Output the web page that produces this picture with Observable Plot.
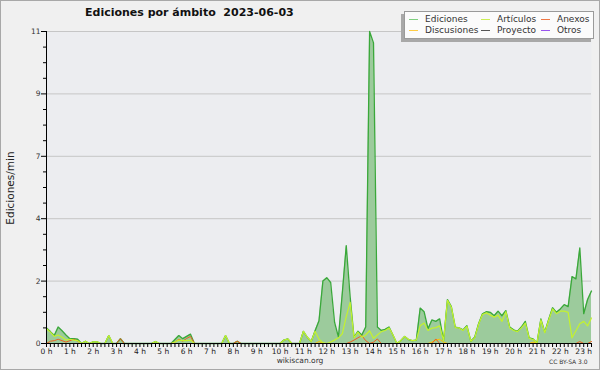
<!DOCTYPE html>
<html><head><meta charset="utf-8">
<script src="https://cdn.jsdelivr.net/npm/d3@7"></script>
<script src="https://cdn.jsdelivr.net/npm/@observablehq/plot@0.6"></script>
<style>
html,body{margin:0;padding:0;background:#f0f0f0;}
#wrap{position:relative;width:600px;height:370px;overflow:hidden;background:#f0f0f0;font-family:"DejaVu Sans",sans-serif;color:#222;}
#border{position:absolute;left:0;top:0;width:598px;height:368px;border:1px solid #a8a8a8;pointer-events:none;}
#chart{position:absolute;left:0;top:0;}
.t{position:absolute;white-space:pre;line-height:1;}
#title{left:85px;top:7px;font-weight:bold;font-size:11px;color:#111;}
#ylab{left:10px;top:188px;font-size:10.5px;transform:translate(-50%,-50%) rotate(-90deg);}
#site{left:300px;top:357px;font-size:7.5px;transform:translateX(-50%);color:#333;}
#cc{left:549px;top:359px;font-size:6px;color:#333;}
#legend{position:absolute;left:404px;top:11px;width:188px;height:26px;background:#fbfbfb;border:1px solid #9a9a9a;box-shadow:-3px 3px 0 #a8a8a8;}
.sw{position:absolute;width:9px;height:0;border-top:1px solid;}
.lt{position:absolute;font-size:9px;color:#333;white-space:pre;line-height:1;}
</style></head>
<body><div id="wrap"><div id="chart"></div>
<div id="title" class="t">Ediciones por ámbito  2023-06-03</div>
<div id="ylab" class="t">Ediciones/min</div>
<div id="site" class="t">wikiscan.org</div>
<div id="cc" class="t">CC BY-SA 3.0</div>
<div id="legend"></div>
<div id="border"></div>
</div>
<script>
// 10-minute slots starting at 00:00
const stepMinutes = 10;
const ediciones = [
 0.55,0.42,0.28,0.58,0.45,0.30,
 0.17,0.17,0.15,0,0.08,0,
 0.06,0.06,0,0,0.28,0,
 0,0.17,0,0,0,0,
 0,0,0,0,0.07,0,
 0,0,0,0.14,0.28,0.17,
 0.25,0.33,0,0,0,0,
 0,0,0,0,0.28,0,
 0,0.08,0,0,0,0,
 0,0,0,0,0,0,
 0,0.12,0.16,0,0,0,
 0.43,0.22,0.07,0.45,0.80,2.20,
 2.32,2.15,0.75,0.22,1.80,3.45,
 1.65,0.22,0.43,0.30,0.58,11.0,
 10.6,0.58,0.46,0.50,0.58,0.30,
 0,0.10,0.25,0.14,0.10,0.12,
 1.25,1.12,0.52,0.83,0.78,0.87,
 0.10,1.55,1.30,0.58,0.55,0.48,
 0.63,0.08,0.22,0.70,1.05,1.12,
 1.10,0.98,1.14,0.98,1.16,0.58,
 0.48,0.43,0.58,0.78,0.20,0.16,
 0.02,0.87,0.40,0.85,1.26,1.10,
 1.22,1.37,1.30,2.36,2.28,3.37,
 1.05,1.55,1.85];
const articulos = [
 0.52,0.40,0.25,0.30,0.22,0.12,
 0.15,0.12,0.10,0,0.08,0,
 0.06,0.06,0,0,0.28,0,
 0,0,0,0,0,0,
 0,0,0,0,0.07,0,
 0,0,0,0.05,0.12,0.10,
 0.10,0.12,0,0,0,0,
 0,0,0,0,0.28,0,
 0,0,0,0,0,0,
 0,0,0,0,0,0,
 0,0.12,0.16,0,0,0,
 0.43,0.22,0.07,0.43,0.15,0.03,
 0,0.05,0.12,0.20,0.35,0.95,
 1.45,0.20,0.40,0.22,0.30,0.45,
 0.18,0.30,0.42,0.46,0.55,0.30,
 0,0.10,0.25,0.14,0.10,0.12,
 0.63,0.72,0.46,0.54,0.56,0.62,
 0.10,1.52,1.28,0.56,0.55,0.46,
 0.60,0.08,0.20,0.68,1.02,1.08,
 1.00,0.93,1.00,0.78,1.12,0.55,
 0.46,0.42,0.55,0.72,0.18,0.14,
 0.02,0.83,0.38,0.82,1.22,1.05,
 1.14,1.14,1.10,0.20,0.45,0.70,
 0.78,0.62,0.90];
const anexos = [
 0,0.08,0.10,0.15,0.10,0.05,
 0.10,0.15,0.08,0,0,0,
 0,0,0,0,0,0,
 0,0.17,0,0,0,0,
 0,0,0,0,0,0,
 0,0,0,0.05,0.15,0.08,
 0.18,0.25,0,0,0,0,
 0,0,0,0,0,0,
 0,0.08,0,0,0,0,
 0,0,0,0,0,0,
 0,0,0,0,0,0,
 0,0,0,0,0,0,
 0,0,0,0,0,0,
 0.05,0.12,0.20,0.28,0.10,0,
 0.05,0.16,0,0,0,0,
 0,0,0,0,0,0,
 0,0,0,0,0.16,0,
 0,0,0,0,0,0,
 0,0,0,0,0,0,
 0,0,0,0,0,0,
 0,0,0,0,0,0,
 0,0,0,0,0,0,
 0,0,0,0,0,0.07,
 0,0,0.07];
const discusiones = [
 0,0,0,0,0,0, 0,0,0,0,0,0, 0,0,0,0,0,0, 0,0,0,0,0,0,
 0,0,0,0,0,0, 0,0,0,0,0,0, 0,0,0,0,0,0, 0,0,0,0,0,0,
 0,0,0,0,0,0, 0,0,0,0,0,0, 0,0,0,0,0,0,
 0,0,0,0,0.07,0,
 0,0,0,0,0,0, 0,0,0,0,0,0, 0,0,0,0,0,0, 0,0,0,0,0,0,
 0,0,0,0.05,0.12,0.15,
 0.05,0,0,0,0,0, 0,0,0,0,0,0, 0,0,0,0,0,0,
 0,0,0,0,0,0.05,
 0,0,0,0,0,0, 0,0,0,0,0,0, 0,0,0];
const yTicks = [0, 2.2, 4.4, 6.6, 8.8, 11];
const hourLabels = d3.range(0, 24);
const legendItems = ["Ediciones","Artículos","Anexos","Discusiones","Proyecto","Otros"];
const legendColors = ["#7fcf7f","#ccee55","#ee7744","#ffcc44","#555555","#9955ee"];

const data = ediciones.map((v, i) => ({
  h: i * stepMinutes / 60, total: v, art: articulos[i], anx: anexos[i], disc: discusiones[i]
}));
const xMax = (ediciones.length - 1) * stepMinutes / 60;
const minorY = d3.range(0, 20).map(k => k * 0.55).filter(v => !yTicks.some(t => Math.abs(t - v) < 1e-6));
const minorX = d3.range(0, ediciones.length).map(i => i * stepMinutes / 60);

const chart = Plot.plot({
  width: 600, height: 370,
  marginLeft: 46, marginRight: 9, marginTop: 31, marginBottom: 27,
  style: {background: "transparent", fontFamily: "DejaVu Sans, sans-serif", fontSize: "7.5px", color: "#000"},
  x: {domain: [0, xMax]},
  y: {domain: [0, 11]},
  marks: [
    Plot.frame({fill: "#ecedf0", stroke: null}),
    Plot.gridY(yTicks.slice(1), {stroke: "#c6c6c6", strokeOpacity: 1}),
    Plot.areaY(data, {x: "h", y: "total", fill: "#9ccb9c"}),
    Plot.lineY(data, {x: "h", y: "total", stroke: "#3aa83a", strokeWidth: 1.3}),
    Plot.lineY(data, {x: "h", y: "disc", stroke: "#ffc400", strokeWidth: 1}),
    Plot.lineY(data, {x: "h", y: "anx", stroke: "#f06020", strokeWidth: 1}),
    Plot.lineY(data, {x: "h", y: "art", stroke: "#c4f22e", strokeWidth: 1.2}),
    Plot.axisY(minorY, {tickSize: 3, tickFormat: () => "", label: null}),
    Plot.axisY(yTicks, {tickSize: 5, tickPadding: 1, tickFormat: d => String(Math.round(d)), label: null, fill: "#333"}),
    Plot.axisX(minorX, {tickSize: 4, tickFormat: () => "", label: null}),
    Plot.axisX(hourLabels, {tickSize: 0, tickPadding: 5, tickFormat: d => d + " h", label: null, fill: "#222"}),
    Plot.ruleX([0], {y1: 0, y2: 11, stroke: "#000"}),
    Plot.ruleY([0], {stroke: "#000"})
  ]
});
document.getElementById("chart").appendChild(chart);

const leg = document.getElementById("legend");
const colsX = [4, 76, 136];
legendItems.forEach((name, k) => {
  const col = k % 3, row = Math.floor(k / 3);
  const sw = document.createElement("div");
  sw.className = "sw";
  sw.style.left = colsX[col] + "px";
  sw.style.top = (7 + row * 11) + "px";
  sw.style.borderTopColor = legendColors[k];
  leg.appendChild(sw);
  const tx = document.createElement("div");
  tx.className = "lt";
  tx.textContent = name;
  tx.style.left = (colsX[col] + 16) + "px";
  tx.style.top = (2.5 + row * 11) + "px";
  leg.appendChild(tx);
});
</script></body></html>
